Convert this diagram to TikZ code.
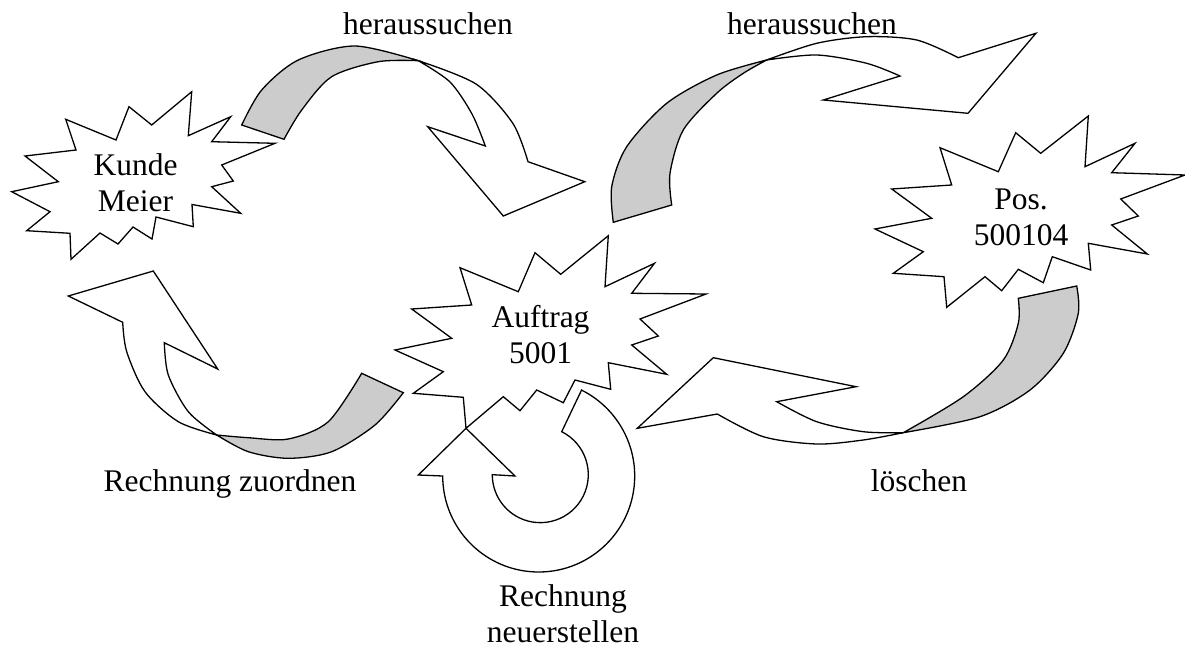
\documentclass[tikz,border=0pt]{standalone}
\usepackage{fontspec}
\setmainfont{Liberation Serif}
\begin{document}
\begin{tikzpicture}[x=1pt,y=-1pt,
    burst/.style={draw, fill=white, line width=1.3pt, line join=miter},
    backside/.style={draw, fill=black!20, line width=1.3pt},
    frontside/.style={draw, fill=white, line width=1.3pt, line join=miter},
    caption/.style={font=\fontsize{31.5}{36}\selectfont, align=center, anchor=base, inner sep=0pt}]
    \useasboundingbox (0,0) rectangle (1185,650);

    % Arrow Kunde -> Auftrag
    \filldraw[backside] plot[smooth] coordinates {(241.7,125) (261.7,90) (298.3,60) (355,46) (418.3,60.7)}
        -- plot[smooth] coordinates {(418.3,60.7) (378.3,61.7) (331.7,76.7) (301.7,110) (284,139.3)} -- cycle;
    \filldraw[frontside] plot[smooth] coordinates {(418.3,60.7) (476,84) (512.8,123.3) (528,161.7)}
        -- (584.8,181.7) -- (503.3,216) -- (427.7,126.7)
        -- plot[smooth] coordinates {(485.3,146) (472,114) (450,82) (418.3,60.7)} -- cycle;

    % Arrow Auftrag -> Pos
    \filldraw[backside] plot[smooth] coordinates {(613.3,222.3) (611.7,186.7) (626.7,146.7) (666.7,103.3) (716.7,75) (766.7,60)}
        -- plot[smooth] coordinates {(766.7,60) (743.3,73.3) (716.7,93.3) (683.3,130) (670,173.3) (671.7,205)} -- cycle;
    \filldraw[frontside] plot[smooth] coordinates {(766.7,60) (816.7,43.3) (866.7,36.7) (916.7,40) (958.3,57.7)}
        -- (1035.9,33.3) -- (968,113.3) -- (823.3,100)
        -- plot[smooth] coordinates {(900,76) (866.7,63.3) (816.7,55) (766.7,60)} -- cycle;

    % Arrow Auftrag -> Kunde
    \filldraw[backside] plot[smooth] coordinates {(216.7,435) (248.3,451.7) (288.3,458.3) (331.7,451.7) (375,425) (403.3,392.7)}
        -- plot[smooth] coordinates {(361.7,373.3) (328.3,421.7) (288.3,439) (248.3,437.7) (216.7,435)} -- cycle;
    \filldraw[frontside] (122.7,322.3) -- (68.3,296) -- (153.3,271) -- (217.7,369)
        -- plot[smooth] coordinates {(164.3,342.7) (168.3,375) (188.3,411.7) (216.7,435)}
        -- plot[smooth] coordinates {(216.7,435) (178.3,421.7) (145,391.7) (126.7,351.7) (122.7,322.3)} -- cycle;

    % Arrow Pos -> Auftrag
    \filldraw[backside] plot[smooth] coordinates {(1076.7,286) (1078.3,313.3) (1063.3,353.3) (1030,390) (980,416.7) (903.3,432.7)}
        -- plot[smooth] coordinates {(903.3,432.7) (963.3,396.7) (1003.3,360) (1018.3,323.3) (1018.3,298.3)} -- cycle;
    \filldraw[frontside] plot[smooth] coordinates {(903.3,432.7) (863.3,431.7) (816.7,421.7) (776.7,401.7)}
        -- (856,386.7) -- (713.3,357.7) -- (637.3,428.3)
        -- plot[smooth] coordinates {(717.3,414) (763.3,436.7) (816.7,444) (863.3,440) (903.3,432.7)} -- cycle;

    % Circular arrow at Auftrag
    \filldraw[frontside] (442.7,476) arc[start angle=180, end angle=-63.5, radius=96]
        -- (561.7,431.7) arc[start angle=-63.5, end angle=180, radius=48]
        -- (515,476) -- (466,428.3) -- (418.3,475) -- cycle;

    % The bursts
    \filldraw[burst] (191.7,91.7) -- (188.3,135.7) -- (230.7,116.7) -- (211.7,141.7) -- (275,143.3)
        -- (221.7,165) -- (233.3,181) -- (211.7,186.7) -- (240.7,213.3) -- (192,204.5)
        -- (193.3,226.7) -- (156,217) -- (152,239) -- (133,227) -- (118,244) -- (100,233)
        -- (71,259.3) -- (70,233.3) -- (26.7,230.7) -- (50,211.7) -- (11.7,191.7)
        -- (58.3,181.7) -- (25,156) -- (76,150) -- (65.7,119.3) -- (116,140)
        -- (129,106.7) -- (151.7,125) -- cycle;
    \filldraw[burst] (460,267.7) -- (518.3,291.7) -- (535,252.7) -- (560.7,274.3) -- (608.3,235.7)
        -- (605,286.7) -- (654.5,263.3) -- (631.7,293.3) -- (706,294) -- (640,319)
        -- (658.3,336) -- (631.7,345) -- (666.7,374.3) -- (608.3,362.7) -- (610.7,389.3)
        -- (575,380) -- (563.3,402.7) -- (536.7,390) -- (520,410.7) -- (503.3,396.7)
        -- (466,428.3) -- (463.3,397.3) -- (413.3,393.3) -- (443.3,371.7) -- (395,350)
        -- (451.7,338.3) -- (411.7,309) -- (471.7,305) -- cycle;
    \filldraw[burst] (940,147.7) -- (998.3,171.7) -- (1015.7,132.7) -- (1040.7,153.3) -- (1088.3,116)
        -- (1085,166.7) -- (1135,143.3) -- (1111.7,172.7) -- (1185,175) -- (1120.7,199)
        -- (1138.3,216) -- (1111.7,225) -- (1147.3,254) -- (1088.3,243.3) -- (1090.7,270)
        -- (1052.3,256.7) -- (1043.3,282.7) -- (1018.3,269.3) -- (1001.7,290.7) -- (985,276.7)
        -- (946.7,307.3) -- (944,276.7) -- (893.3,273.3) -- (923.3,251.7) -- (875,229)
        -- (931.7,218.3) -- (891.7,189) -- (951.7,185) -- cycle;

    % Labels (base = last line)
    \node[caption] (kunde) at (135.5,211) {Kunde\\Meier};
    \node[caption] (auftrag) at (540.5,363.3) {Auftrag\\5001};
    \node[caption] (pos) at (1021,245) {Pos.\\500104};
    \node[caption] (suchenA) at (428,35) {heraussuchen};
    \node[caption] (suchenB) at (812,35) {heraussuchen};
    \node[caption] (zuordnen) at (230,491) {Rechnung zuordnen};
    \node[caption] (loeschen) at (919,491) {löschen};
    \node[caption] (neu) at (563,642) {Rechnung\\neuerstellen};
\end{tikzpicture}
\end{document}
